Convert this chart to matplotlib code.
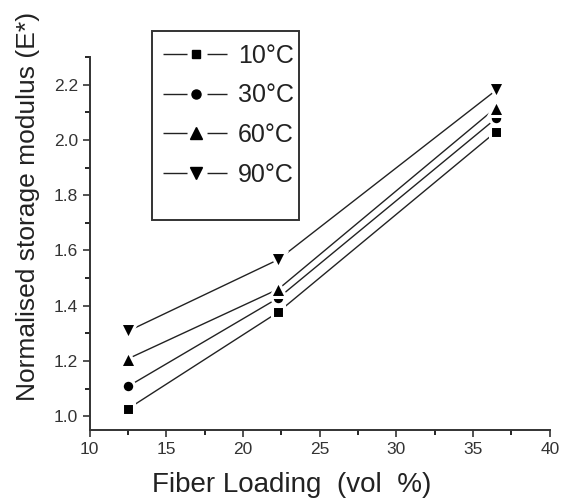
import numpy as np
import matplotlib.pyplot as plt
from matplotlib.ticker import MultipleLocator
from matplotlib.lines import Line2D
from matplotlib.patches import Rectangle
from matplotlib.legend_handler import HandlerTuple

plt.rcParams['font.family'] = ['Liberation Sans', 'DejaVu Sans']

fiber = [12.5, 22.3, 36.5]
temps = ['10', '30', '60', '90']
e_10 = [1.027, 1.377, 2.03]
e_30 = [1.108, 1.428, 2.078]
e_60 = [1.208, 1.46, 2.117]
e_90 = [1.308, 1.567, 2.18]
markers = ['s', 'o', '^', 'v']
msizes = [8.5, 9, 11, 11]

fig = plt.figure(figsize=(5.61, 4.98), dpi=100)
ax = fig.add_axes([0.160, 0.1365, 0.820, 0.749])

handles = []
for vals, t, m, ms in zip([e_10, e_30, e_60, e_90], temps, markers, msizes):
    ax.plot(fiber, vals, '-', color='#222222', lw=1.0, marker=m, markersize=ms,
            mfc='black', mec='white', mew=2.2)
    seg = Line2D([], [], color='#222222', lw=1.0, dashes=(17.3, 14.4, 14.4, 40))
    mk = Line2D([], [], ls='none', marker=m, markersize=ms - 2.5, mfc='black', mec='black')
    handles.append((seg, mk))

ax.set_xlim(10, 40)
ax.set_ylim(0.95, 2.3)
ax.xaxis.set_major_locator(MultipleLocator(5))
ax.xaxis.set_minor_locator(MultipleLocator(2.5))
ax.yaxis.set_minor_locator(MultipleLocator(0.1))
ax.set_yticks(np.arange(1.0, 2.21, 0.2))
ax.set_yticklabels([f'{v:.1f}' for v in np.arange(1.0, 2.21, 0.2)])
ax.tick_params(which='major', direction='out', length=5, width=1.2, labelsize=12.5, colors='#333333')
ax.tick_params(which='minor', direction='out', length=3.5, width=1.2)

for s in ['top', 'right']:
    ax.spines[s].set_visible(False)
for s in ['left', 'bottom']:
    ax.spines[s].set_linewidth(1.4)
    ax.spines[s].set_color('#333333')

ax.set_xlabel('Fiber Loading  (vol  %)', fontsize=20, color='#222222')
ax.xaxis.set_label_coords(0.438, -0.113)
ax.set_ylabel('Normalised storage modulus (E*)', fontsize=19, color='#222222')
ax.yaxis.set_label_coords(-0.108, 0.6)

labels = [f'{t}°C' for t in temps]
leg = ax.legend(handles, labels, loc='upper left', bbox_to_anchor=(163/561, 1-44/498),
                bbox_transform=fig.transFigure, borderaxespad=0, borderpad=0, fontsize=18,
                handlelength=2.6, handletextpad=0.4, labelspacing=0.62,
                frameon=False, handler_map={tuple: HandlerTuple(ndivide=1, pad=0)})
for txt in leg.get_texts():
    txt.set_color('#222222')

fig.patches.append(Rectangle((152/561, 1-220/498), 147/561, 189/498, fill=False,
                             lw=1.4, edgecolor='#333333', transform=fig.transFigure, figure=fig))

fig.savefig('out.png', dpi=100)
